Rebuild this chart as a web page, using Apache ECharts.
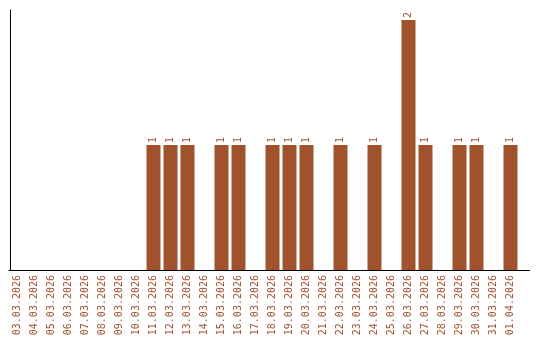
<!DOCTYPE html>
<html>
<head>
<meta charset="utf-8">
<style>html,body{margin:0;padding:0;background:#fff}#c{width:540px;height:340px}</style>
<script src="https://cdn.jsdelivr.net/npm/echarts@6/dist/echarts.min.js"></script>
</head>
<body>
<div id="c"></div>
<script>
const categories = ["03.03.2026","04.03.2026","05.03.2026","06.03.2026","07.03.2026","08.03.2026","09.03.2026","10.03.2026","11.03.2026","12.03.2026","13.03.2026","14.03.2026","15.03.2026","16.03.2026","17.03.2026","18.03.2026","19.03.2026","20.03.2026","21.03.2026","22.03.2026","23.03.2026","24.03.2026","25.03.2026","26.03.2026","27.03.2026","28.03.2026","29.03.2026","30.03.2026","31.03.2026","01.04.2026"];
const counts = [0,0,0,0,0,0,0,0,1,1,1,0,1,1,0,1,1,1,0,1,0,1,0,2,1,0,1,1,0,1];

const color = '#A0522D';
const font = 'DejaVu Sans Mono';
const chart = echarts.init(document.getElementById('c'), null, {renderer: 'canvas'});
chart.setOption({
  animation: false,
  grid: {left: 9, right: 21, top: 10, bottom: 70, containLabel: false},
  xAxis: {
    type: 'category',
    data: categories,
    axisLine: {show: true, lineStyle: {color: '#000', width: 1}},
    axisTick: {show: false},
    axisLabel: {rotate: 90, interval: 0, margin: 5, color: color, fontFamily: font, fontSize: 10}
  },
  yAxis: {
    type: 'value', min: 0, max: 2.08, offset: -1,
    axisLine: {show: true, lineStyle: {color: '#000', width: 1}},
    axisTick: {show: false},
    axisLabel: {show: false},
    splitLine: {show: false}
  },
  graphic: [{
    type: 'line', silent: true,
    shape: {x1: 519, y1: 270.5, x2: 530, y2: 270.5},
    style: {stroke: '#000', lineWidth: 1}
  }],
  series: [{
    type: 'bar',
    data: counts,
    barWidth: 14,
    itemStyle: {color: color},
    label: {
      show: true, position: 'top', rotate: 90, distance: 2,
      align: 'left', verticalAlign: 'middle',
      color: color, fontFamily: font, fontSize: 10,
      formatter: p => p.value ? String(p.value) : ''
    }
  }]
});
</script>
</body>
</html>
